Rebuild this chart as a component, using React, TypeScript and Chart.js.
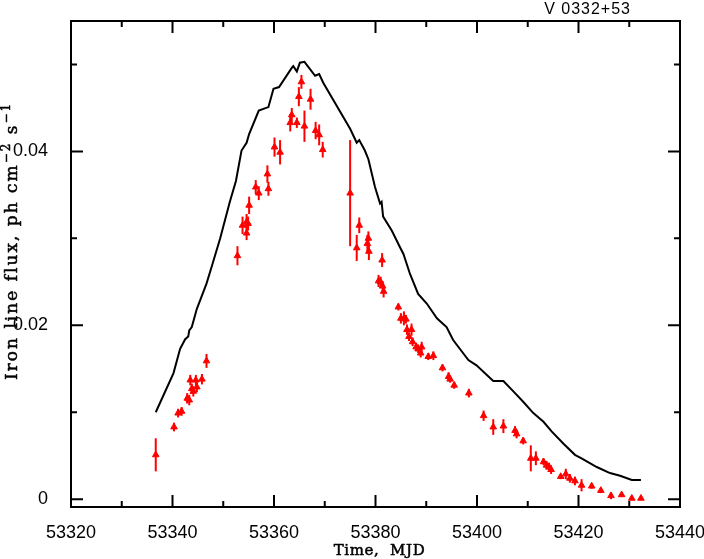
import React, { useEffect, useRef } from 'react';
import { Chart, registerables } from 'chart.js';

Chart.register(...registerables);

const chartTitle = 'V 0332+53';
const xTitle = 'Time,  MJD';
const yTitleRuns: [string, boolean][] = [
  ['Iron line flux, ph cm', false],
  ['\u22122', true],
  [' s', false],
  ['\u22121', true],
];

const xMajorTicks = [53320, 53340, 53360, 53380, 53400, 53420, 53440];
const xMinorTicks = [53330, 53350, 53370, 53390, 53410, 53430];
const yMajorTicks = [0, 0.02, 0.04];
const yMinorTicks = [0.01, 0.03, 0.05];

const modelMjd = [
  53336.7, 53340.2, 53341.5, 53342.5, 53343.1, 53343.3, 53343.8, 53344.8, 53345.8, 53346.7,
  53347.7, 53349.4, 53351.3, 53352.5, 53353.6, 53354.6, 53355.1, 53357.0, 53358.9, 53359.9,
  53361.0, 53363.5, 53363.8, 53364.5, 53365.1, 53366.0, 53368.1, 53368.9, 53369.7, 53375.0,
  53376.3, 53376.8, 53377.9, 53378.6, 53379.9, 53380.9, 53381.2, 53381.5, 53383.2, 53384.8,
  53385.5, 53386.8, 53388.4, 53390.1, 53392.1, 53394.0, 53395.3, 53398.3, 53399.9, 53403.2,
  53405.2, 53407.5, 53409.1, 53411.1, 53413.1, 53414.7, 53417.0, 53419.3, 53420.6, 53423.6,
  53426.2, 53428.2, 53430.5, 53432.3,
];
const modelFlux = [
  0.0100, 0.0145, 0.0173, 0.0184, 0.0187, 0.0194, 0.0198, 0.0219, 0.0234, 0.0248,
  0.0267, 0.0300, 0.0342, 0.0366, 0.0401, 0.0410, 0.0420, 0.0447, 0.0451, 0.0472,
  0.0474, 0.0496, 0.0498, 0.0492, 0.0502, 0.0503, 0.0487, 0.0489, 0.0479, 0.0426,
  0.0410, 0.0413, 0.0401, 0.0391, 0.0359, 0.0340, 0.0342, 0.0325, 0.0309, 0.0290,
  0.0282, 0.0259, 0.0236, 0.0225, 0.0208, 0.0198, 0.0183, 0.0160, 0.0154, 0.0136,
  0.0136, 0.0122, 0.0112, 0.0099, 0.0089, 0.0078, 0.0064, 0.0051, 0.0047, 0.0037,
  0.0030, 0.0027, 0.0022, 0.0022,
];

const obsMjd = [
  53336.7, 53340.3, 53341.1, 53341.8, 53342.9, 53343.3, 53343.5, 53343.8, 53344.1, 53344.6,
  53344.8, 53345.8, 53346.7, 53352.8, 53353.8, 53354.6, 53354.9, 53354.6, 53355.1, 53356.4,
  53357.0, 53358.7, 53358.9, 53360.1, 53361.2, 53363.2, 53363.5, 53364.5, 53364.9, 53365.4,
  53366.0, 53367.2, 53368.2, 53368.9, 53369.6, 53375.0, 53376.3, 53376.8, 53378.4, 53378.6,
  53378.7, 53380.6, 53381.0, 53381.3, 53381.4, 53381.6, 53384.5, 53385.0, 53385.6, 53386.0,
  53386.2, 53387.1, 53386.6, 53387.3, 53388.0, 53388.4, 53389.1, 53388.9, 53390.4, 53391.4,
  53393.2, 53394.4, 53394.7, 53395.5, 53398.4, 53401.3, 53403.2, 53405.2, 53407.5, 53407.8,
  53409.1, 53410.6, 53411.6, 53413.1, 53413.7, 53414.2, 53414.6, 53416.5, 53417.5, 53418.3,
  53419.3, 53420.6, 53422.6, 53424.4, 53426.4, 53428.5, 53430.5, 53432.3,
];
const obsFlux = [
  0.0051, 0.0083, 0.0099, 0.0101, 0.0116, 0.0114, 0.0137, 0.0127, 0.0124, 0.0137,
  0.0129, 0.0138, 0.0159, 0.0280, 0.0315, 0.0319, 0.0317, 0.0306, 0.0338, 0.0359,
  0.0352, 0.0374, 0.0357, 0.0405, 0.0399, 0.0433, 0.0442, 0.0433, 0.0463, 0.0480,
  0.0429, 0.0460, 0.0424, 0.0419, 0.0402, 0.0352, 0.0289, 0.0315, 0.0294, 0.0300,
  0.0285, 0.0251, 0.0250, 0.0275, 0.0245, 0.0239, 0.0221, 0.0208, 0.0208, 0.0207,
  0.0195, 0.0195, 0.0187, 0.0181, 0.0175, 0.0173, 0.0175, 0.0168, 0.0164, 0.0165,
  0.0151, 0.0141, 0.0138, 0.0131, 0.0122, 0.0096, 0.0083, 0.0084, 0.0079, 0.0075,
  0.0067, 0.0047, 0.0047, 0.0043, 0.0039, 0.0037, 0.0034, 0.0026, 0.0029, 0.0024,
  0.0021, 0.0016, 0.0015, 0.0010, 0.0004, 0.0005, 0.0001, 0.0001,
];
const obsErr = [
  0.0019, 0.0005, 0.0005, 0.0005, 0.0006, 0.0006, 0.0006, 0.0006, 0.0006, 0.0006,
  0.0006, 0.0006, 0.0008, 0.0011, 0.0010, 0.0009, 0.0008, 0.0008, 0.0010, 0.0008,
  0.0008, 0.0010, 0.0008, 0.0011, 0.0014, 0.0010, 0.0008, 0.0006, 0.0011, 0.0008,
  0.0018, 0.0012, 0.0010, 0.0012, 0.0009, 0.0061, 0.0015, 0.0009, 0.0010, 0.0008,
  0.0010, 0.0007, 0.0006, 0.0008, 0.0006, 0.0007, 0.0004, 0.0006, 0.0008, 0.0005,
  0.0006, 0.0007, 0.0005, 0.0005, 0.0005, 0.0005, 0.0006, 0.0005, 0.0004, 0.0005,
  0.0004, 0.0005, 0.0004, 0.0004, 0.0005, 0.0006, 0.0009, 0.0008, 0.0005, 0.0005,
  0.0004, 0.0015, 0.0008, 0.0004, 0.0005, 0.0005, 0.0005, 0.0003, 0.0006, 0.0005,
  0.0005, 0.0007, 0.0003, 0.0003, 0.0004, 0.0002, 0.0002, 0.0002,
];

const RED = '#ff0000';
const TICK_FONT = { family: '"Liberation Sans", Arial, sans-serif', size: 18 };
const LABEL_FONT = '"DejaVu Serif", "Liberation Serif", serif';

const errorBarPlugin = {
  id: 'errorBars',
  beforeDatasetsDraw(chart: any) {
    const { ctx, scales } = chart;
    const x = scales.x;
    const y = scales.y;
    ctx.save();
    ctx.strokeStyle = RED;
    ctx.lineWidth = 2;
    obsMjd.forEach((m, i) => {
      const px = x.getPixelForValue(m);
      ctx.beginPath();
      ctx.moveTo(px, y.getPixelForValue(obsFlux[i] - obsErr[i]));
      ctx.lineTo(px, y.getPixelForValue(obsFlux[i] + obsErr[i]));
      ctx.stroke();
    });
    ctx.restore();
  },
};

const framePlugin = {
  id: 'frame',
  afterDraw(chart: any) {
    const { ctx, chartArea, scales } = chart;
    const { left, right, top, bottom } = chartArea;
    const x = scales.x;
    const y = scales.y;
    ctx.save();
    ctx.strokeStyle = '#000';
    ctx.lineWidth = 2;
    ctx.strokeRect(left, top, right - left, bottom - top);
    const tickX = (v: number, len: number) => {
      const px = x.getPixelForValue(v);
      ctx.beginPath();
      ctx.moveTo(px, bottom);
      ctx.lineTo(px, bottom - len);
      ctx.moveTo(px, top);
      ctx.lineTo(px, top + len);
      ctx.stroke();
    };
    const tickY = (v: number, len: number) => {
      const py = y.getPixelForValue(v);
      ctx.beginPath();
      ctx.moveTo(left, py);
      ctx.lineTo(left + len, py);
      ctx.moveTo(right, py);
      ctx.lineTo(right - len, py);
      ctx.stroke();
    };
    xMajorTicks.forEach((v) => tickX(v, 12));
    xMinorTicks.forEach((v) => tickX(v, 6));
    yMajorTicks.forEach((v) => tickY(v, 12));
    yMinorTicks.forEach((v) => tickY(v, 6));

    // title
    ctx.fillStyle = '#000';
    ctx.font = '16px "Liberation Sans", Arial, sans-serif';
    (ctx as any).letterSpacing = '1px';
    ctx.textAlign = 'right';
    ctx.textBaseline = 'alphabetic';
    ctx.fillText(chartTitle, 631, 13.5);

    // axis titles drawn slightly heavier
    ctx.lineWidth = 0.5;
    ctx.lineJoin = 'round';

    // x axis title
    ctx.font = `15px ${LABEL_FONT}`;
    (ctx as any).letterSpacing = '0.6px';
    ctx.textAlign = 'center';
    ctx.fillText(xTitle, 379.5, 554.5);
    ctx.strokeText(xTitle, 379.5, 554.5);

    // y axis title (rotated, with superscripts), starting at the bottom
    const mainFont = `17px ${LABEL_FONT}`;
    const supFont = `12px ${LABEL_FONT}`;
    (ctx as any).letterSpacing = '2px';
    ctx.translate(16.5, 380);
    ctx.rotate(-Math.PI / 2);
    ctx.textAlign = 'left';
    let cx = 0;
    yTitleRuns.forEach(([t, sup]) => {
      ctx.font = sup ? supFont : mainFont;
      ctx.fillText(t, cx, sup ? -7 : 0);
      ctx.strokeText(t, cx, sup ? -7 : 0);
      cx += ctx.measureText(t).width;
    });
    ctx.restore();
  },
};

export default function App() {
  const canvasRef = useRef<HTMLCanvasElement | null>(null);

  useEffect(() => {
    if (!canvasRef.current) return;
    const chart = new Chart(canvasRef.current, {
      type: 'scatter',
      data: {
        datasets: [
          {
            type: 'line',
            label: 'model',
            data: modelMjd.map((m, i) => ({ x: m, y: modelFlux[i] })),
            borderColor: '#000',
            borderWidth: 2,
            pointRadius: 0,
            tension: 0,
            fill: false,
          } as any,
          {
            type: 'scatter',
            label: 'observed',
            data: obsMjd.map((m, i) => ({ x: m, y: obsFlux[i] })),
            pointStyle: 'triangle',
            pointRadius: 3.8,
            backgroundColor: RED,
            borderColor: RED,
            borderWidth: 1,
          },
        ],
      },
      options: {
        responsive: false,
        animation: false,
        layout: { padding: { top: 21, right: 24, left: 0, bottom: 0 } },
        plugins: {
          legend: { display: false },
          tooltip: { enabled: false },
          title: { display: false },
        },
        scales: {
          x: {
            type: 'linear',
            min: 53320,
            max: 53440,
            grid: { display: false },
            border: { display: false },
            afterBuildTicks: (scale: any) => {
              scale.ticks = xMajorTicks.map((v) => ({ value: v }));
            },
            afterFit: (scale: any) => {
              scale.height = 52;
              scale.paddingLeft = 0;
              scale.paddingRight = 0;
            },
            ticks: {
              color: '#000',
              font: TICK_FONT,
              padding: 7,
              maxRotation: 0,
              autoSkip: false,
              callback: (v: any) => String(v),
            },
          },
          y: {
            type: 'linear',
            min: -0.0009,
            max: 0.055,
            grid: { display: false },
            border: { display: false },
            afterBuildTicks: (scale: any) => {
              scale.ticks = yMajorTicks.map((v) => ({ value: v }));
            },
            afterFit: (scale: any) => {
              scale.width = 71;
              scale.paddingTop = 0;
              scale.paddingBottom = 0;
            },
            ticks: {
              color: '#000',
              font: TICK_FONT,
              padding: 15,
              autoSkip: false,
              callback: (v: any) => (v === 0 ? '0' : Number(v).toFixed(2)),
            },
          },
        },
      },
      plugins: [errorBarPlugin, framePlugin],
    });
    return () => chart.destroy();
  }, []);

  return (
    <div style={{ position: 'absolute', left: 0, top: 0, width: 704, height: 559, background: '#fff' }}>
      <canvas ref={canvasRef} width={704} height={559} style={{ display: 'block' }} />
    </div>
  );
}
